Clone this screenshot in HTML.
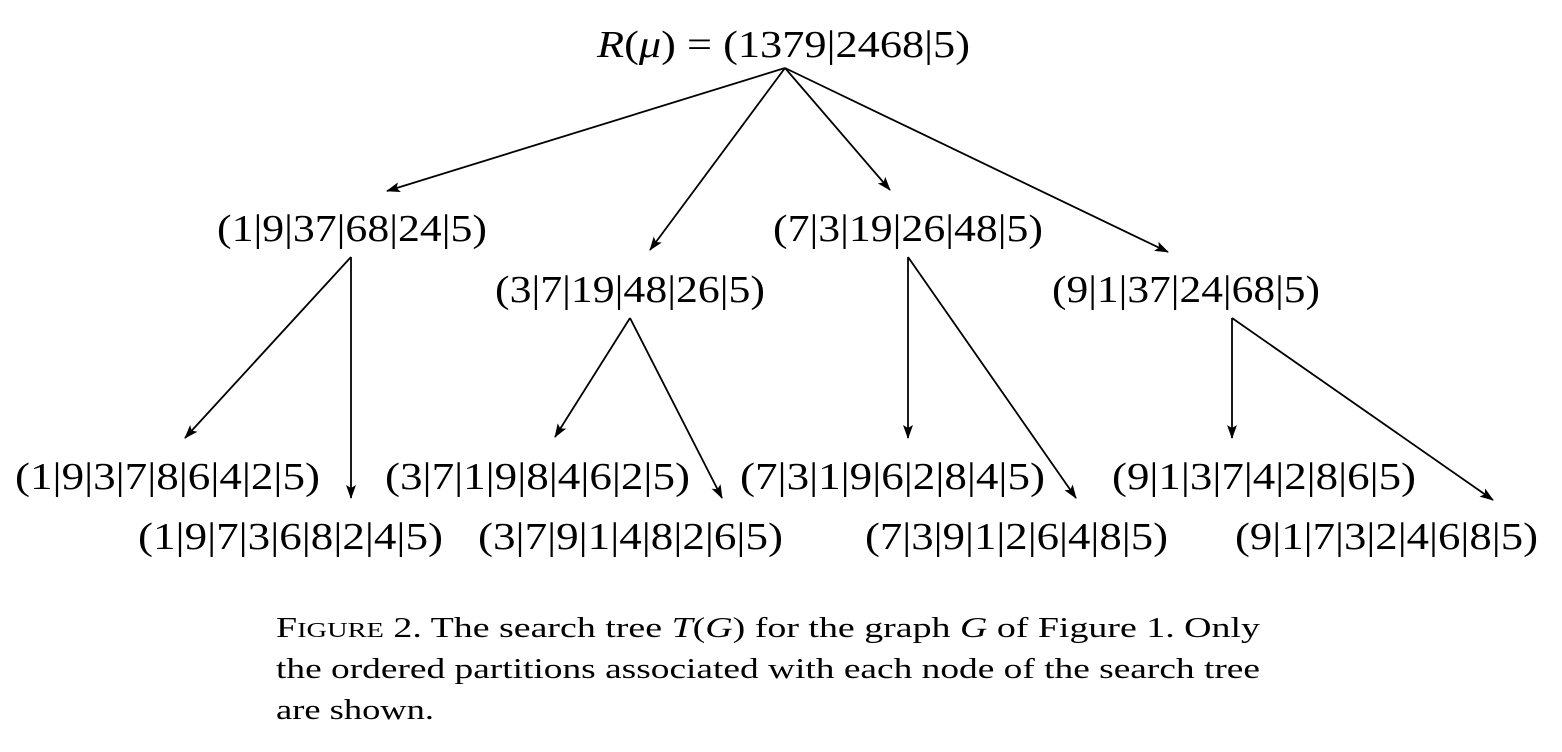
<!DOCTYPE html>
<html><head><meta charset="utf-8"><style>
html,body{margin:0;padding:0;background:#fff;width:1562px;height:752px;overflow:hidden}
svg text{font-family:"Liberation Serif",serif;fill:#000}
</style></head><body>
<svg width="1562" height="752" viewBox="0 0 1562 752" xmlns="http://www.w3.org/2000/svg">
<defs><marker id="a" markerWidth="14" markerHeight="10" refX="13" refY="5" orient="auto" markerUnits="userSpaceOnUse"><path d="M0,0 L14,5 L0,10 L3,5 z" fill="#000"/></marker></defs>
<g stroke="#000" stroke-width="1.8" marker-end="url(#a)">
<line x1="785" y1="68" x2="387" y2="191"/>
<line x1="785" y1="68" x2="650" y2="250"/>
<line x1="785" y1="68" x2="890" y2="190"/>
<line x1="785" y1="68" x2="1168" y2="252"/>
<line x1="351" y1="257" x2="185" y2="438"/>
<line x1="351" y1="257" x2="351" y2="498"/>
<line x1="630" y1="318" x2="555" y2="437"/>
<line x1="630" y1="318" x2="722" y2="498"/>
<line x1="908" y1="257" x2="908" y2="438"/>
<line x1="908" y1="257" x2="1076" y2="498"/>
<line x1="1232" y1="318" x2="1232" y2="438"/>
<line x1="1232" y1="318" x2="1493" y2="500"/>
</g>
<g font-size="38">
<text x="597" y="57" textLength="373" lengthAdjust="spacingAndGlyphs"><tspan font-style="italic">R</tspan>(<tspan font-style="italic">μ</tspan>) = (1379|2468|5)</text>
<text x="217" y="241" textLength="270" lengthAdjust="spacingAndGlyphs">(1|9|37|68|24|5)</text>
<text x="495" y="302" textLength="270" lengthAdjust="spacingAndGlyphs">(3|7|19|48|26|5)</text>
<text x="773" y="241" textLength="270" lengthAdjust="spacingAndGlyphs">(7|3|19|26|48|5)</text>
<text x="1052" y="302" textLength="268" lengthAdjust="spacingAndGlyphs">(9|1|37|24|68|5)</text>
<text x="15" y="489" textLength="305" lengthAdjust="spacingAndGlyphs">(1|9|3|7|8|6|4|2|5)</text>
<text x="138" y="549" textLength="305" lengthAdjust="spacingAndGlyphs">(1|9|7|3|6|8|2|4|5)</text>
<text x="385" y="489" textLength="305" lengthAdjust="spacingAndGlyphs">(3|7|1|9|8|4|6|2|5)</text>
<text x="478" y="549" textLength="305" lengthAdjust="spacingAndGlyphs">(3|7|9|1|4|8|2|6|5)</text>
<text x="740" y="489" textLength="305" lengthAdjust="spacingAndGlyphs">(7|3|1|9|6|2|8|4|5)</text>
<text x="865" y="549" textLength="303" lengthAdjust="spacingAndGlyphs">(7|3|9|1|2|6|4|8|5)</text>
<text x="1112" y="489" textLength="304" lengthAdjust="spacingAndGlyphs">(9|1|3|7|4|2|8|6|5)</text>
<text x="1235" y="549" textLength="303" lengthAdjust="spacingAndGlyphs">(9|1|7|3|2|4|6|8|5)</text>
</g>
<g font-size="28">
<text x="276" y="637" textLength="984" lengthAdjust="spacingAndGlyphs">F<tspan font-size="21">IGURE</tspan> 2.  The search tree <tspan font-style="italic">T</tspan>(<tspan font-style="italic">G</tspan>) for the graph <tspan font-style="italic">G</tspan> of Figure 1. Only</text>
<text x="276" y="678" textLength="984" lengthAdjust="spacingAndGlyphs">the ordered partitions associated with each node of the search tree</text>
<text x="276" y="719" textLength="158" lengthAdjust="spacingAndGlyphs">are shown.</text>
</g>
</svg>
</body></html>
